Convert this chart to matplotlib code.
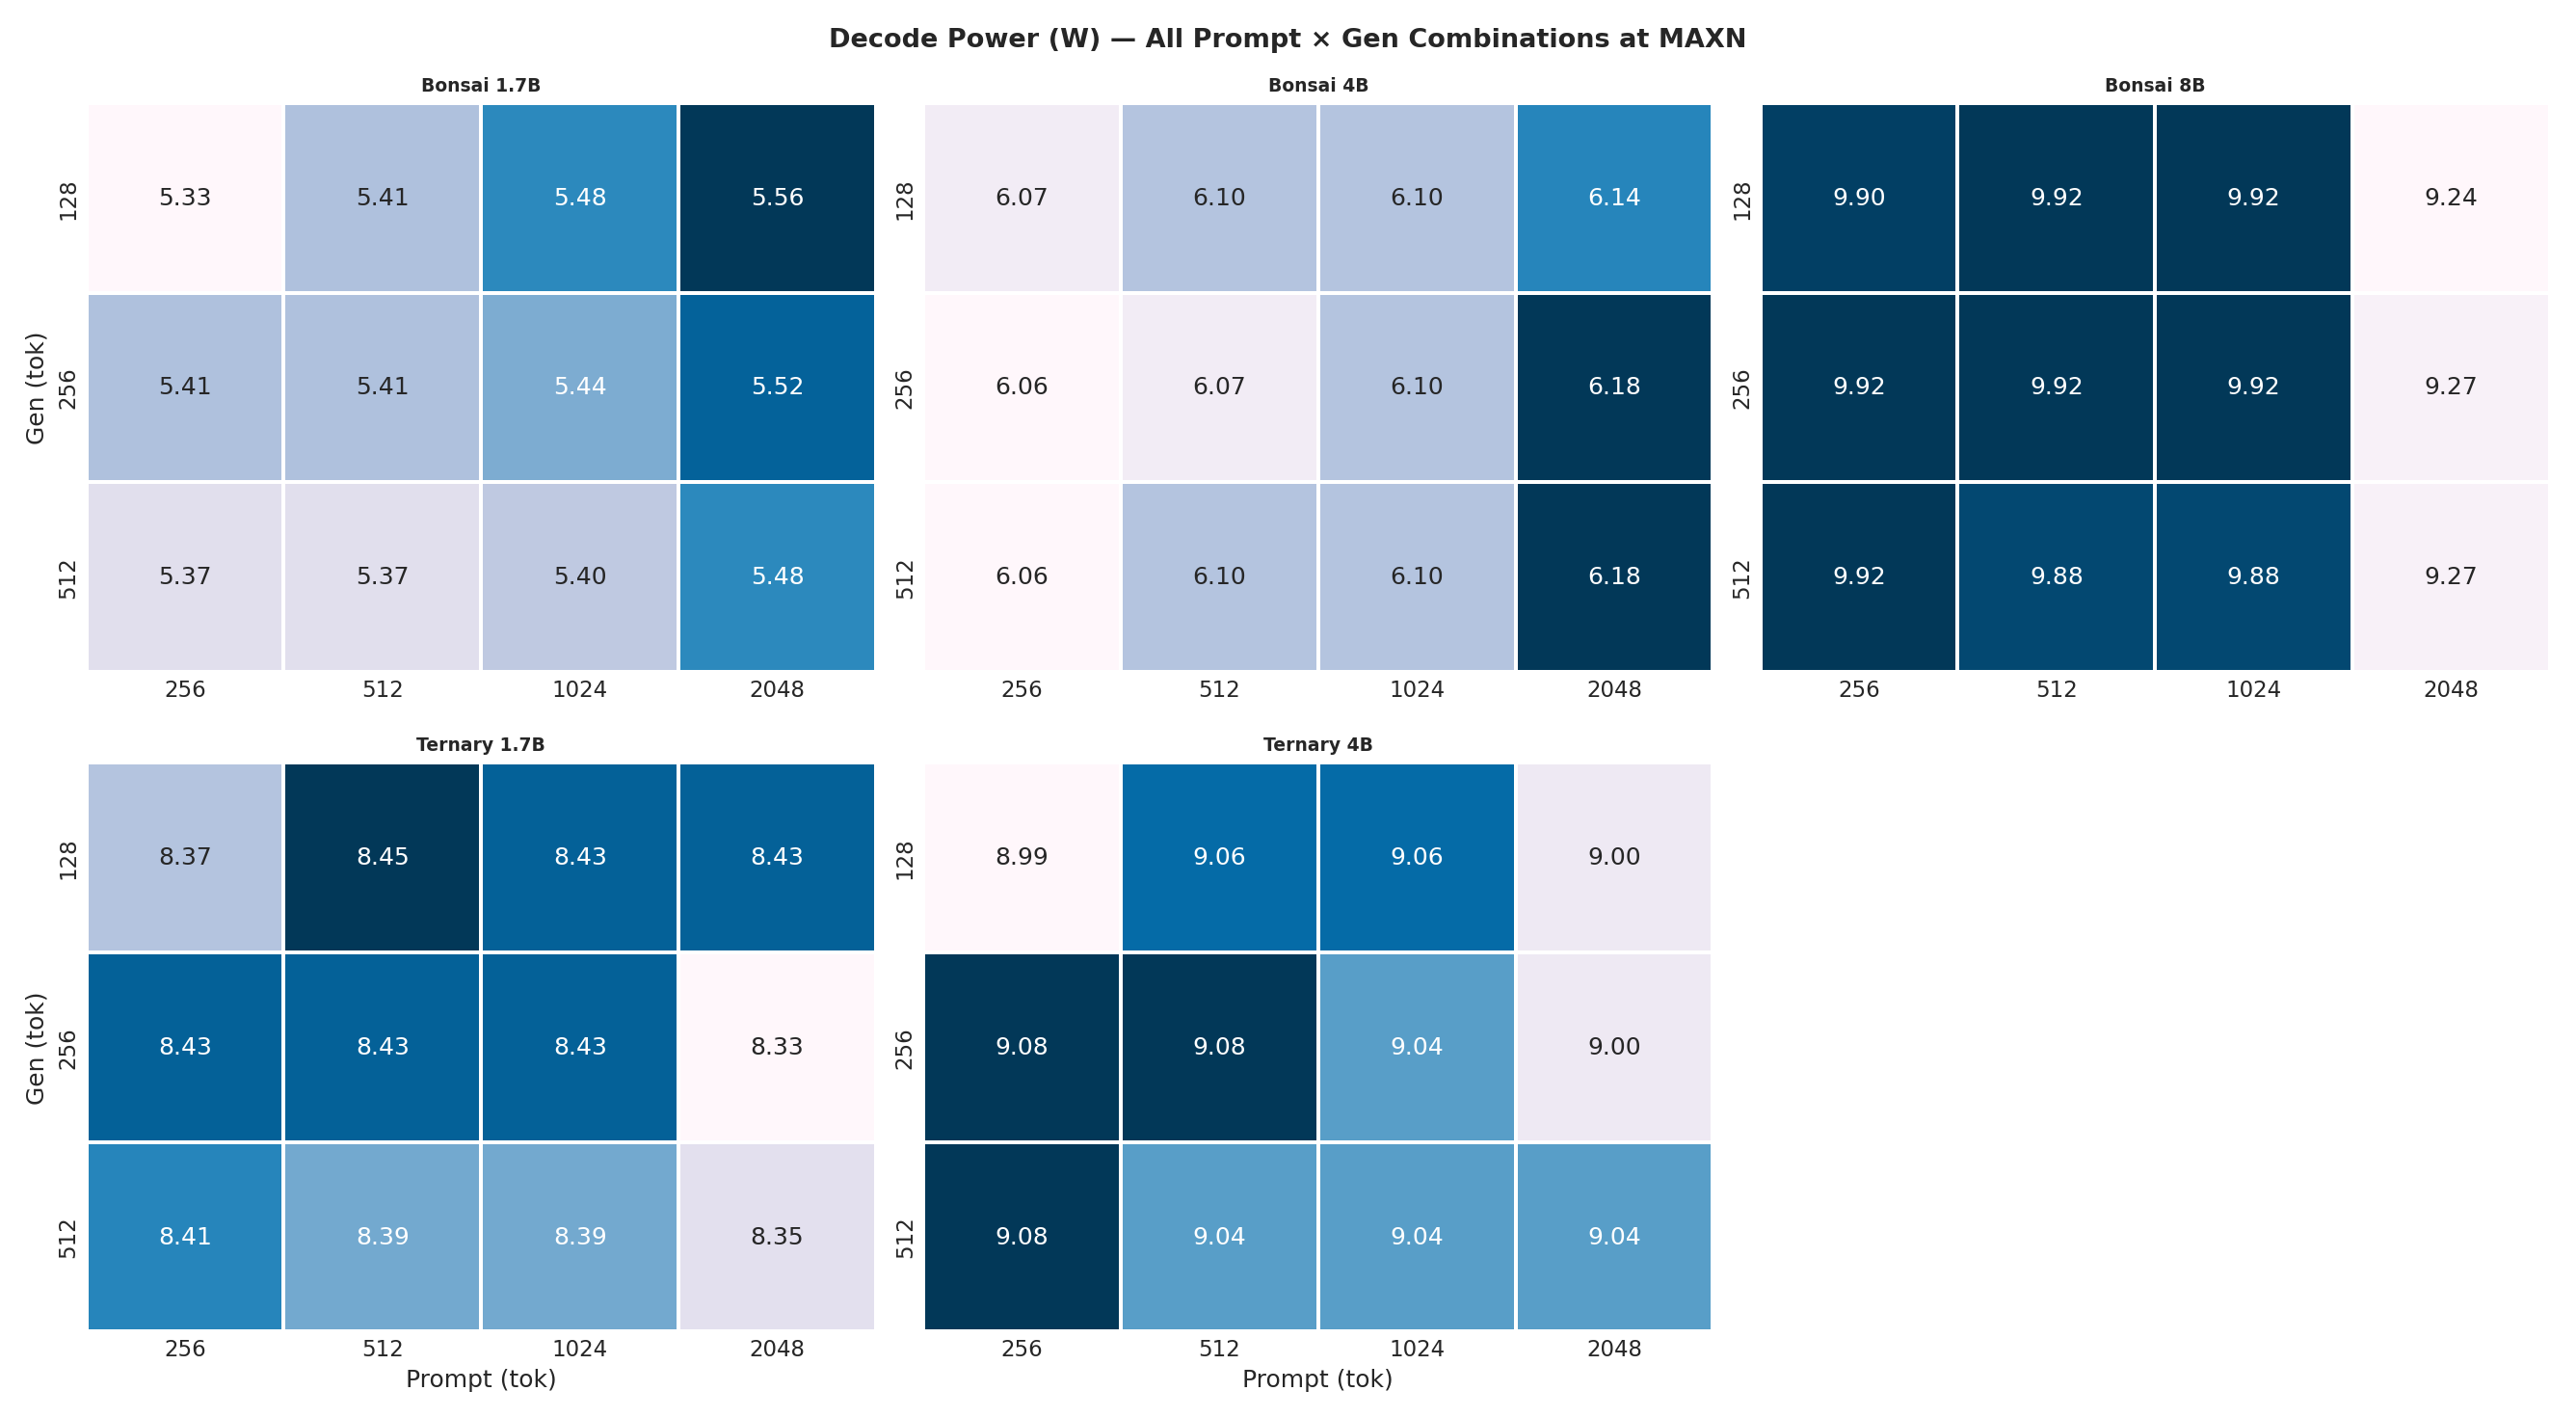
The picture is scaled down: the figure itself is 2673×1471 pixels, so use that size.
import matplotlib
matplotlib.use("Agg")
import matplotlib.pyplot as plt
import seaborn as sns
import numpy as np

prompts = [256, 512, 1024, 2048]
gens = [128, 256, 512]
models = ["Bonsai 1.7B", "Bonsai 4B", "Bonsai 8B", "Ternary 1.7B", "Ternary 4B"]
bonsai_17 = [[5.33, 5.41, 5.48, 5.56], [5.41, 5.41, 5.44, 5.52], [5.37, 5.37, 5.40, 5.48]]
bonsai_4 = [[6.07, 6.10, 6.10, 6.14], [6.06, 6.07, 6.10, 6.18], [6.06, 6.10, 6.10, 6.18]]
bonsai_8 = [[9.90, 9.92, 9.92, 9.24], [9.92, 9.92, 9.92, 9.27], [9.92, 9.88, 9.88, 9.27]]
ternary_17 = [[8.37, 8.45, 8.43, 8.43], [8.43, 8.43, 8.43, 8.33], [8.41, 8.39, 8.39, 8.35]]
ternary_4 = [[8.99, 9.06, 9.06, 9.00], [9.08, 9.08, 9.04, 9.00], [9.08, 9.04, 9.04, 9.04]]
data = [bonsai_17, bonsai_4, bonsai_8, ternary_17, ternary_4]

sns.set_theme(style="white")
fig, axes = plt.subplots(2, 3, figsize=(17.82, 9.81), dpi=150)
for i, ax in enumerate(axes.flat):
    if i >= len(models):
        ax.axis("off")
        continue
    arr = np.array(data[i])
    sns.heatmap(arr, ax=ax, cmap="PuBu", annot=True, fmt=".2f", cbar=False,
                linewidths=1, linecolor="white", xticklabels=prompts, yticklabels=gens,
                annot_kws={"fontsize": 12})
    ax.set_title(models[i], fontsize=9, fontweight="bold")
    ax.tick_params(labelsize=11, length=0)
    ax.set_xlabel("Prompt (tok)" if i >= 3 else "", fontsize=12)
    ax.set_ylabel("Gen (tok)" if i % 3 == 0 else "", fontsize=12)
fig.suptitle("Decode Power (W) — All Prompt × Gen Combinations at MAXN", fontsize=13, fontweight="bold")
fig.tight_layout()
fig.subplots_adjust(hspace=0.16, wspace=0.06)
fig.savefig("out.png")
